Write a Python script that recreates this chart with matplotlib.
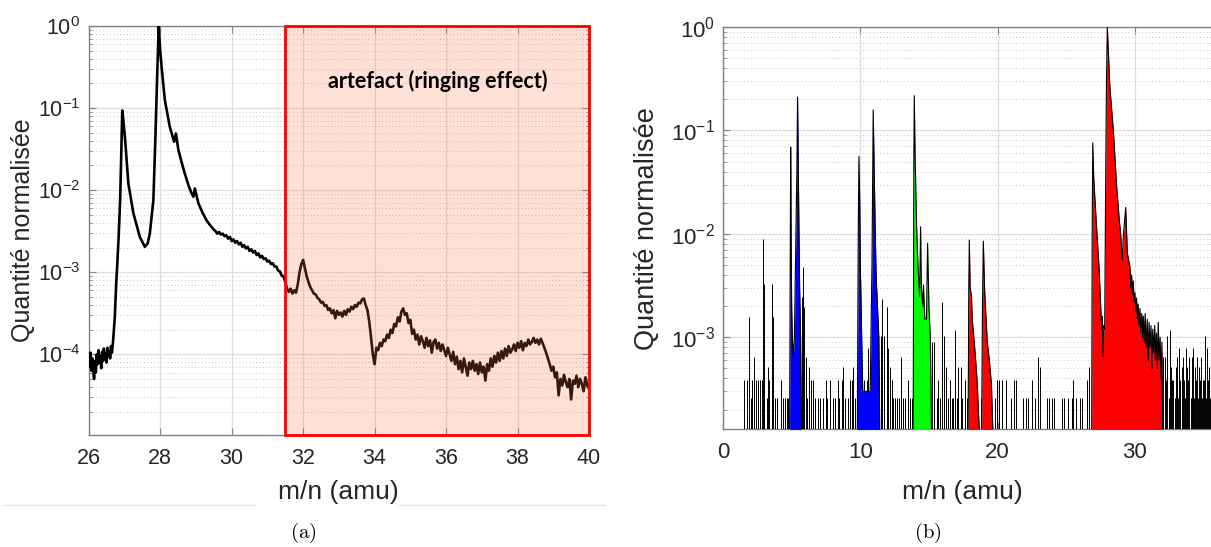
import matplotlib
matplotlib.use('Agg')
import matplotlib.pyplot as plt
import numpy as np
from matplotlib.ticker import LogLocator, FuncFormatter, NullLocator, NullFormatter
from matplotlib.lines import Line2D

plt.rcParams['font.family'] = ['Liberation Sans', 'DejaVu Sans']
plt.rcParams['mathtext.default'] = 'regular'

# ---------------- (a) spectrum, values stored as log10(quantity)
# noisy baseline before the first peak
a_noise_x = (26.00, 26.65)
a_noise = [-4.02, -4.15, -3.98, -4.20, -4.05, -4.18, -4.30, -4.08, -4.22, -4.00,
           -4.12, -3.95, -4.10, -4.03, -4.17, -3.97, -4.08, -3.93, -4.06, -3.99,
           -4.10, -3.92, -4.02, -3.96, -4.05, -3.90, -3.98]
# the two main peaks (27, 28) and the decay
a_peak_x = [26.68, 26.73, 26.77, 26.80, 26.84, 26.88, 26.91, 26.94, 26.97, 27.02,
            27.11, 27.25, 27.43, 27.57, 27.65, 27.71, 27.81, 27.87, 27.92, 27.96,
            28.00, 28.04, 28.13, 28.27, 28.39, 28.44, 28.51, 28.60, 28.69, 28.80,
            28.88, 28.93, 28.97, 29.07, 29.18, 29.30, 29.42, 29.50]
a_peak = [-3.85, -3.55, -3.13, -2.90, -2.55, -2.12, -1.60, -1.03, -1.15, -1.39,
          -1.92, -2.28, -2.57, -2.69, -2.65, -2.53, -2.12, -1.31, -0.55, 0.0,
          -0.30, -0.50, -0.90, -1.23, -1.41, -1.31, -1.51, -1.66, -1.80, -1.95,
          -2.04, -2.08, -1.98, -2.16, -2.27, -2.37, -2.44, -2.48]
a_tail_x = (29.55, 31.50)
a_tail = [-2.50, -2.53, -2.51, -2.54, -2.53, -2.56, -2.55, -2.59, -2.57, -2.62,
          -2.60, -2.64, -2.62, -2.66, -2.64, -2.69, -2.67, -2.71, -2.69, -2.74,
          -2.72, -2.76, -2.74, -2.79, -2.77, -2.82, -2.80, -2.84, -2.83, -2.87,
          -2.86, -2.90, -2.89, -2.93, -2.93, -2.98, -2.99, -3.04, -3.05, -3.12]
# artefact region
a_ring1_x = (31.55, 33.90)
a_ring1 = [-3.20, -3.24, -3.20, -3.26, -3.22, -3.25, -3.15, -3.00, -2.90, -2.85,
           -2.95, -3.05, -3.12, -3.18, -3.22, -3.26, -3.27, -3.31, -3.33, -3.37,
           -3.36, -3.41, -3.40, -3.46, -3.44, -3.50, -3.46, -3.56, -3.47, -3.52,
           -3.49, -3.54, -3.47, -3.52, -3.45, -3.48, -3.42, -3.45, -3.40, -3.42,
           -3.37, -3.38, -3.33, -3.32, -3.40, -3.46, -3.60, -3.79]
a_ring2_x = (33.95, 40.00)
a_ring2 = [-4.00, -4.12, -3.92, -3.95, -3.86, -3.90, -3.82, -3.84, -3.76, -3.80,
           -3.70, -3.74, -3.63, -3.66, -3.55, -3.60, -3.48, -3.44, -3.52, -3.50,
           -3.62, -3.58, -3.75, -3.70, -3.82, -3.76, -3.88, -3.78, -3.84, -3.92,
           -3.80, -3.90, -3.83, -3.98, -3.85, -3.82, -3.93, -3.86, -3.96, -3.88,
           -3.95, -4.02, -3.92, -4.00, -4.08, -3.97, -4.12, -4.03, -4.18, -4.08,
           -4.22, -4.05, -4.15, -4.26, -4.10, -4.18, -4.08, -4.20, -4.12, -4.24,
           -4.10, -4.22, -4.15, -4.32, -4.12, -4.20, -4.05, -4.15, -4.02, -4.10,
           -3.98, -4.08, -3.96, -4.05, -3.93, -4.02, -3.90, -3.98, -3.94, -3.88,
           -3.96, -3.86, -3.92, -3.84, -3.95, -3.86, -3.90, -3.82, -3.88, -3.85,
           -3.80, -3.86, -3.82, -3.88, -3.81, -3.86, -3.92, -3.98, -4.05, -4.12,
           -4.20, -4.15, -4.28, -4.22, -4.50, -4.30, -4.38, -4.25, -4.34, -4.40,
           -4.30, -4.55, -4.32, -4.36, -4.26, -4.40, -4.30, -4.36, -4.45, -4.28,
           -4.38, -4.42]
artefact_start = 31.5
artefact_text = 'artefact (ringing effect)'

# ---------------- (b) spectrum
count = 1.3e-4   # one count after normalisation
noise_x = [1.55, 1.72, 1.92, 2.01, 2.11, 2.23, 2.38, 2.57, 2.69, 2.81, 2.89, 2.98,
           3.18, 3.25, 3.37, 3.54, 3.61, 3.78, 3.95, 4.20, 4.39, 4.51, 4.63, 4.76,
           5.78, 5.85, 5.90, 6.04, 6.14, 6.28, 6.38, 6.58, 6.70, 6.94, 7.06, 7.30,
           7.50, 7.60, 7.79, 8.03, 8.15, 8.35, 8.47, 8.64, 8.76, 8.88, 9.12, 9.25,
           9.37, 9.49, 9.61, 9.73,
           10.29, 10.46, 10.58, 11.50, 11.60, 11.75, 11.96, 12.04, 12.16, 12.28,
           12.40, 12.52, 12.64, 12.81, 13.00, 13.13, 13.25, 13.49, 13.61, 13.74,
           15.24, 15.36, 15.56, 15.68, 15.80, 15.97, 16.11, 16.21, 16.36, 16.53,
           16.65, 16.77, 16.89, 17.01, 17.15, 17.33, 17.43, 17.62, 17.74, 18.78,
           19.80, 19.96, 20.10, 20.30, 20.60, 20.98, 21.17, 21.34, 21.87, 22.10,
           22.24, 22.53, 22.72, 22.97, 23.09, 23.57, 23.77, 23.94, 24.13, 24.66,
           24.86, 25.10, 25.40, 25.51, 25.68, 26.00, 26.17, 26.48, 26.68,
           32.05, 32.19, 32.25, 32.36, 32.45, 32.55, 32.60, 32.67, 32.80, 32.90,
           32.99, 33.05, 33.09, 33.15, 33.23, 33.30, 33.40, 33.46, 33.52, 33.60,
           33.66, 33.72, 33.82, 33.90, 33.96, 34.05, 34.13, 34.19, 34.25, 34.31,
           34.37, 34.45, 34.54, 34.60, 34.69, 34.74, 34.79, 34.86, 34.93, 35.00,
           35.10, 35.18, 35.27, 35.35, 35.42, 35.48, 35.54]
noise_n = [3, 3, 12, 2, 3, 5, 3, 3, 3, 3, 68, 25,
           2, 4, 3, 25, 12, 2, 2, 3, 2, 2, 2, 2,
           19, 37, 15, 5, 2, 4, 3, 3, 2, 2, 2, 2,
           3, 2, 3, 2, 2, 3, 2, 3, 4, 2, 2, 3,
           3, 4, 2, 2,
           3, 3, 6, 8, 18, 8, 15, 6, 4, 3,
           2, 2, 2, 2, 5, 2, 2, 3, 2, 2,
           7, 7, 2, 3, 2, 17, 8, 4, 2, 3,
           2, 2, 9, 2, 4, 4, 2, 3, 2, 2,
           2, 3, 3, 3, 3, 2, 3, 3, 2, 2,
           2, 3, 2, 5, 4, 2, 2, 2, 2, 2,
           2, 2, 2, 3, 2, 2, 2, 3, 4,
           5, 5, 3, 8, 2, 9, 4, 3, 3, 2,
           4, 3, 5, 2, 6, 3, 4, 2, 5, 3,
           2, 6, 4, 3, 5, 2, 5, 3, 6, 2,
           4, 3, 5, 2, 4, 3, 5, 2, 3, 3,
           8, 2, 6, 3, 4, 2, 4]

blue1_x = [4.85, 4.90, 4.93, 4.96, 5.00, 5.05, 5.12, 5.20, 5.30, 5.38, 5.43, 5.48, 5.52, 5.58, 5.65, 5.72]
blue1_y = [1e-4, 8e-3, 0.069, 0.010, 2e-3, 1e-3, 6.5e-4, 1e-3, 8e-3, 0.04, 0.21, 0.05, 0.015, 3e-3, 1e-3, 1e-4]
blue2_x = [9.78, 9.85, 9.90, 9.96, 10.00, 10.06, 10.12, 10.18, 10.72, 10.85, 10.94, 11.00, 11.08, 11.15, 11.25, 11.35, 11.42]
blue2_y = [1e-4, 0.010, 0.056, 0.020, 5e-3, 2e-3, 7e-4, 3e-4, 3e-4, 5e-3, 0.158, 0.05, 0.012, 4e-3, 2e-3, 1e-3, 1e-4]
green_x = [13.85, 13.90, 13.93, 14.00, 14.10, 14.20, 14.32, 14.39, 14.45, 14.55, 14.60, 14.70, 14.82, 14.90, 15.00, 15.10, 15.20]
green_y = [1e-4, 0.05, 0.217, 0.05, 0.012, 5e-3, 2.5e-3, 0.0117, 3e-3, 2e-3, 3.2e-3, 1.5e-3, 1.5e-3, 8.1e-3, 2e-3, 1e-3, 1e-4]
red1_x = [17.85, 17.90, 17.94, 18.00, 18.10, 18.15, 18.30, 18.40, 18.50, 18.70,
          18.83, 18.90, 18.96, 19.05, 19.15, 19.25, 19.40, 19.55, 19.68]
red1_y = [1e-4, 3e-3, 0.0087, 3e-3, 2.5e-3, 1.5e-3, 9e-4, 6e-4, 4e-4, 1e-4,
          1e-4, 2e-3, 0.0085, 3e-3, 1.6e-3, 9e-4, 6e-4, 3.5e-4, 1e-4]
red2_x = [26.85, 26.89, 26.93, 27.00, 27.20, 27.40, 27.58, 27.62, 27.66, 27.70,
          27.74, 27.80, 27.86, 27.93, 27.99, 28.18, 28.43, 28.67, 28.86, 28.96,
          29.08, 29.16, 29.33, 29.45, 29.64, 29.70, 29.76, 29.83, 29.88, 29.94,
          30.00, 30.06, 30.12, 30.18, 30.24, 30.30, 30.37, 30.43, 30.50, 30.56,
          30.62, 30.68, 30.75, 30.82, 30.90, 30.97, 31.03, 31.10, 31.17, 31.24,
          31.30, 31.37, 31.44, 31.50, 31.57, 31.64, 31.70, 31.77, 31.84, 31.90,
          31.97, 32.02]
red2_y = [1e-4, 0.01, 0.076, 0.035, 0.012, 4.5e-3, 1.2e-3, 1.6e-3, 9e-4, 6.5e-4,
          1.3e-3, 1.2e-3, 0.02, 0.3, 1.0, 0.26, 0.10, 0.029, 0.0137, 0.0102,
          0.0056, 0.0097, 0.018, 0.0065, 0.0048, 3.0e-3, 4.0e-3, 2.6e-3, 3.5e-3, 2.2e-3,
          2.7e-3, 1.8e-3, 2.4e-3, 1.5e-3, 2.1e-3, 1.3e-3, 1.9e-3, 1.1e-3, 1.7e-3, 1.0e-3,
          1.6e-3, 9e-4, 1.7e-3, 8e-4, 1.5e-3, 6e-4, 1.4e-3, 8e-4, 1.3e-3, 5e-4,
          1.2e-3, 7e-4, 1.3e-3, 6e-4, 1.1e-3, 5e-4, 1.4e-3, 6e-4, 1.0e-3, 4e-4,
          9e-4, 1e-4]

peaks_b = [(blue1_x, blue1_y, '#0000ff'), (blue2_x, blue2_y, '#0000ff'),
           (green_x, green_y, '#00ff00'), (red1_x, red1_y, '#ff0000'),
           (red2_x, red2_y, '#ff0000')]

W, H = 1211, 547
fig = plt.figure(figsize=(W / 100, H / 100), dpi=100)

spine_c = '#808080'
text_c = '#262626'


def decade_fmt(v, pos):
    e = int(round(np.log10(v)))
    return r'$10^{%d}$' % e


def style(ax, fs):
    ax.set_yscale('log')
    ax.yaxis.set_major_locator(LogLocator(base=10, numticks=20))
    ax.yaxis.set_minor_locator(LogLocator(base=10, subs=np.arange(2, 10), numticks=20))
    ax.yaxis.set_major_formatter(FuncFormatter(decade_fmt))
    ax.yaxis.set_minor_formatter(NullFormatter())
    ax.xaxis.set_minor_locator(NullLocator())
    ax.grid(True, which='major', color='#dedede', lw=0.9, ls='-')
    ax.grid(True, which='minor', axis='y', color='#c8c8c8', lw=0.7, ls=(0, (1, 2.5)))
    ax.set_axisbelow(True)
    ax.tick_params(which='both', direction='in', top=True, right=True,
                   color=spine_c, labelcolor=text_c, labelsize=fs)
    ax.tick_params(which='major', length=5, width=0.8)
    ax.tick_params(which='minor', length=2.5, width=0.6)
    ax.tick_params(axis='y', pad=6)
    ax.tick_params(axis='x', pad=9)
    for s in ax.spines.values():
        s.set_color(spine_c)
        s.set_linewidth(1.0)


# ---- panel (a)
ax1 = fig.add_axes([88.7 / W, 1 - 435 / H, (589 - 88.7) / W, (435 - 26) / H])
style(ax1, 15.5)
segments = [(a_noise_x, a_noise), (a_tail_x, a_tail), (a_ring1_x, a_ring1), (a_ring2_x, a_ring2)]
xs = list(np.linspace(a_noise_x[0], a_noise_x[1], len(a_noise))) + a_peak_x
ys = list(a_noise) + a_peak
for (x0, x1), vals in segments[1:]:
    xs += list(np.linspace(x0, x1, len(vals)))
    ys += list(vals)
ax1.plot(xs, 10.0 ** np.array(ys), color='black', lw=1.9, zorder=3)
ax1.axvspan(artefact_start, 40, facecolor=(1.0, 0.45, 0.30), alpha=0.22, lw=0, zorder=4)
ax1.axvspan(artefact_start, 40, facecolor='none', edgecolor='#ff0000', lw=2.0, zorder=5, clip_on=False)
ax1.set_xlim(26, 40)
ax1.set_ylim(1.04e-5, 1)
ax1.set_xticks([26, 28, 30, 32, 34, 36, 38, 40])
ax1.text(0.697, 0.866, artefact_text, transform=ax1.transAxes, ha='center', va='center',
         fontsize=15.5, fontweight='bold', family=['Lato', 'DejaVu Sans'], zorder=6)
ax1.set_ylabel('Quantité normalisée', fontsize=18, color=text_c)
ax1.yaxis.set_label_coords(-0.107, 0.5)
ax1.set_xlabel('m/n (amu)', fontsize=19, color=text_c)
ax1.xaxis.set_label_coords(0.5, -0.110)

# ---- panel (b)
ax2 = fig.add_axes([723 / W, 1 - 429.3 / H, (W - 723) / W, (429.3 - 27) / H])
style(ax2, 16)
ax2.spines['right'].set_visible(False)
ax2.tick_params(which='both', right=False)
ybot = 1e-4
ax2.vlines(noise_x, ybot, np.array(noise_n) * count, colors='black', lw=0.7, zorder=3)
for px, py, c in peaks_b:
    ax2.fill_between(px, py, ybot, color=c, lw=0, zorder=4)
    ax2.plot(px, py, color='black', lw=0.8, zorder=5)
ax2.set_xlim(0, (W - 723) / 13.73)
ax2.set_ylim(1.29e-4, 1)
ax2.set_xticks([0, 10, 20, 30])
ax2.set_ylabel('Quantité normalisée', fontsize=19.5, color=text_c)
ax2.yaxis.set_label_coords(-0.129, 0.5)
ax2.set_xlabel('m/n (amu)', fontsize=19, color=text_c)
ax2.xaxis.set_label_coords(0.49, -0.126)

# captions
fig.text(303 / W, 1 - 533 / H, r'$\mathrm{(a)}$', math_fontfamily='cm', fontsize=15,
         ha='center', va='center', color='black')
fig.text(928 / W, 1 - 533 / H, r'$\mathrm{(b)}$', math_fontfamily='cm', fontsize=15,
         ha='center', va='center', color='black')
fig.add_artist(Line2D([4 / W, 255 / W], [1 - 505 / H, 1 - 505 / H], color='#e6e6e6', lw=1))
fig.add_artist(Line2D([397 / W, 605 / W], [1 - 505 / H, 1 - 505 / H], color='#e6e6e6', lw=1))

fig.savefig('out.png', dpi=100)
